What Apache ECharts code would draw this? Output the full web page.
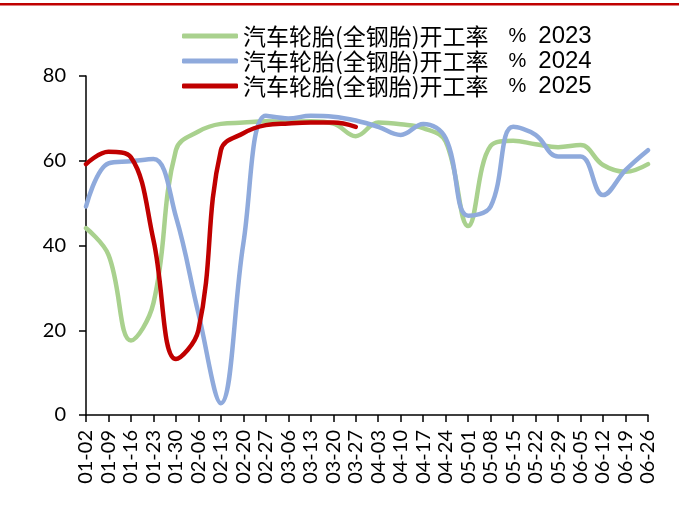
<!DOCTYPE html>
<html>
<head>
<meta charset="utf-8">
<script src="https://cdn.jsdelivr.net/npm/echarts@6/dist/echarts.min.js"></script>
<style>
  html, body { margin: 0; padding: 0; background: #ffffff; }
  #chart { width: 679px; height: 510px; }
</style>
</head>
<body>
<div id="chart"></div>
<script>
// Weekly dates (month-day) shared by all three years
const weeks = ['01-02','01-09','01-16','01-23','01-30','02-06','02-13','02-20','02-27','03-06',
  '03-13','03-20','03-27','04-03','04-10','04-17','04-24','05-01','05-08','05-15',
  '05-22','05-29','06-05','06-12','06-19','06-26'];

// Truck tyre (all-steel) operating rate, %
const rate2023 = [44.1, 37.8, 17.6, 26.4, 62.5, 66.9, 68.7, 69.0, 69.3, 69.2,
  69.3, 68.8, 65.8, 69.0, 68.6, 67.7, 64.5, 44.6, 63.5, 64.7,
  63.9, 63.2, 63.7, 59.0, 57.4, 59.2];
const rate2024 = [49.2, 59.4, 59.9, 60.4, 46.8, 24.0, 2.8, 40.5, 70.6, 70.0,
  70.6, 70.4, 69.5, 68.0, 66.1, 68.7, 65.3, 47.0, 49.2, 68.0,
  66.1, 61.0, 61.0, 51.9, 57.8, 62.5];
const rate2025 = [59.2, 62.1, 60.8, 41.3, 13.2, 20.0, 62.5, 66.5, 68.4, 68.8,
  69.0, 69.0, 68.0];

const yTicks = { min: 0, max: 80, step: 20 };

const indicator = '汽车轮胎(全钢胎)开工率';
const unit = '%';
const years = ['2023', '2024', '2025'];
const seriesNames = years.map(y => indicator + ' ' + unit + ' ' + y);
const seriesColors = ['#a9d18e', '#8faadc', '#c00000'];
const seriesData = [rate2023, rate2024, rate2025];

const chart = echarts.init(document.getElementById('chart'), null, { renderer: 'canvas' });

const axisFont = { fontFamily: 'Lato', fontSize: 20, color: '#000000' };

chart.setOption({
  animation: false,
  backgroundColor: '#ffffff',
  graphic: [{
    type: 'rect',
    left: 0, top: 3,
    shape: { width: 679, height: 2.5 },
    style: { fill: '#c00000' },
    silent: true
  }],
  legend: {
    orient: 'vertical',
    left: 177,
    top: 19,
    itemWidth: 56,
    itemHeight: 5,
    itemGap: 1,
    icon: 'roundRect',
    formatter: function (name) {
      const parts = name.split(' ');
      return '{t|' + parts[0] + '}{p|' + parts[1] + '}{y|' + parts[2] + '}';
    },
    textStyle: {
      fontFamily: 'Noto Sans CJK SC',
      fontSize: 22,
      lineHeight: 22,
      color: '#000000',
      rich: {
        t: { fontFamily: 'Noto Sans CJK SC', fontSize: 23, lineHeight: 22, color: '#000000' },
        p: { fontFamily: 'Liberation Sans Narrow, Liberation Sans', fontSize: 20, lineHeight: 22, color: '#000000', padding: [0, 0, 0, 20] },
        y: { fontFamily: 'Liberation Sans Narrow, Liberation Sans', fontSize: 24, lineHeight: 22, color: '#000000', padding: [0, 0, 0, 12] }
      }
    },
    data: seriesNames
  },
  grid: { left: 86, right: 31, top: 76, bottom: 95, containLabel: false },
  xAxis: {
    type: 'category',
    data: weeks,
    boundaryGap: false,
    axisLine: { lineStyle: { color: '#000000', width: 1.5 } },
    axisTick: { show: true, length: 7, alignWithLabel: true, lineStyle: { color: '#000000', width: 1.5 } },
    axisLabel: Object.assign({ rotate: 90, interval: 0, margin: 15 }, axisFont),
    splitLine: { show: false }
  },
  yAxis: {
    type: 'value',
    min: yTicks.min,
    max: yTicks.max,
    interval: yTicks.step,
    axisLine: { show: true, lineStyle: { color: '#000000', width: 1.5 } },
    axisTick: { show: true, length: 7, lineStyle: { color: '#000000', width: 1.5 } },
    axisLabel: Object.assign({ margin: 20 }, axisFont),
    splitLine: { show: false }
  },
  series: seriesNames.map((name, i) => ({
    name: name,
    type: 'line',
    data: seriesData[i],
    smooth: 0.4,
    showSymbol: false,
    symbol: 'none',
    lineStyle: { color: seriesColors[i], width: 4.5, cap: 'round', join: 'round' },
    itemStyle: { color: seriesColors[i] },
    z: 2 + i
  }))
});
</script>
</body>
</html>
